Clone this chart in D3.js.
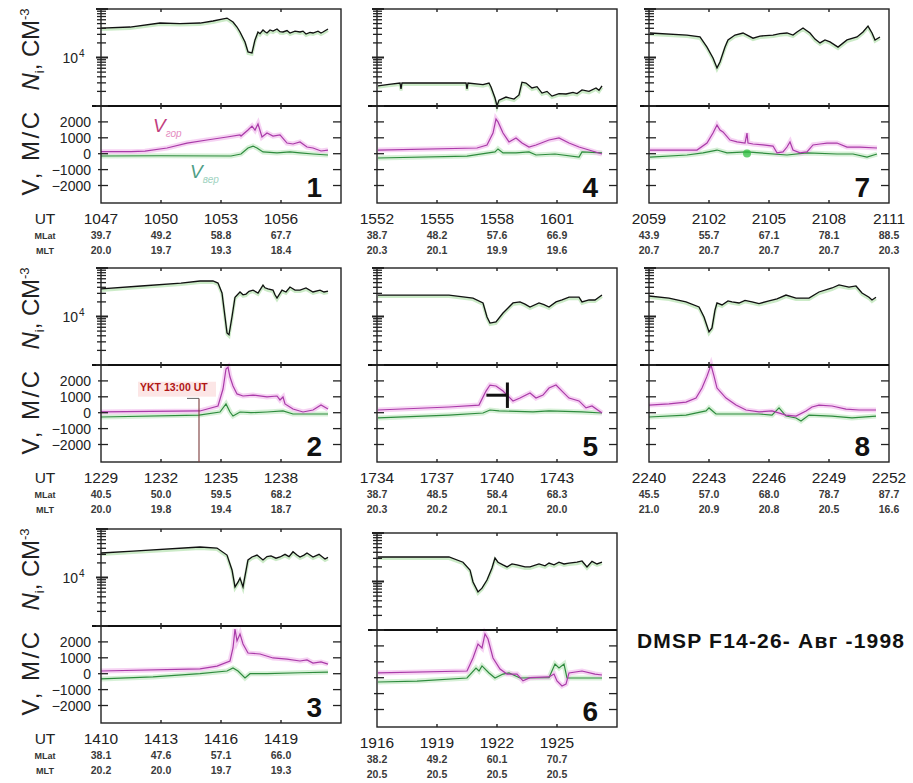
<!DOCTYPE html>
<html><head><meta charset="utf-8">
<script src="https://cdn.jsdelivr.net/npm/d3@7"></script>
<style>
body{margin:0;background:#fff}
svg{display:block}
text{font-family:"Liberation Sans",Arial,Helvetica,sans-serif}
</style>
</head><body>
<svg id="c" width="913" height="783"></svg>
<script>
// ---------------- DATA (time in minutes after first UT label) ----------------
// Ion density Ni (cm^-3)
const ni1 = [[0,4.05e4],[1.45,4.25e4],[2.95,5.14e4],[3.95,5.0e4],[4.95,5.14e4],[5.6,5.66e4],[6.05,6.2e4],[6.3,6.5e4],[6.6,5.4e4],[6.8,4.25e4],[6.95,3.36e4],[7.2,2.09e4],[7.35,1.3e4],[7.55,1.24e4],[7.7,2.3e4],[7.85,3.36e4],[7.95,3.1e4],[8.1,3.69e4],[8.2,3.4e4],[8.3,3.2e4],[8.45,3.69e4],[8.6,3.5e4],[8.8,3.87e4],[8.95,3.4e4],[9.1,3.36e4],[9.3,3.6e4],[9.45,3.2e4],[9.7,3.5e4],[9.95,3.36e4],[10.1,3.5e4],[10.25,3.05e4],[10.45,3.3e4],[10.6,3.2e4],[10.85,3.5e4],[11.0,3.2e4],[11.1,3.36e4],[11.35,3.87e4]];
const ni2 = [[0,3.7e4],[2.0,4.25e4],[4.0,4.9e4],[4.95,5.4e4],[5.6,5.4e4],[5.85,4.9e4],[6.05,3.05e4],[6.2,9.8e3],[6.3,4.6e3],[6.4,4.2e3],[6.55,9.8e3],[6.7,2.5e4],[6.95,3.2e4],[7.1,2.8e4],[7.25,2.9e4],[7.4,3.3e4],[7.6,3.5e4],[7.85,3.05e4],[8.1,4.45e4],[8.2,3.9e4],[8.35,3.7e4],[8.6,3.5e4],[8.7,2.8e4],[8.8,2.4e4],[9.05,3.5e4],[9.25,3.2e4],[9.45,4.05e4],[9.7,3.5e4],[9.95,3.5e4],[10.25,3.87e4],[10.6,3.2e4],[10.95,3.5e4],[11.15,3.2e4],[11.35,3.35e4]];
const ni3 = [[0,3.2e4],[1.6,3.5e4],[4.95,4.25e4],[5.8,4.05e4],[6.3,2.9e4],[6.55,1.43e4],[6.7,6.4e3],[6.85,8.0e3],[6.95,9.7e3],[7.1,6.4e3],[7.35,2.3e4],[7.55,2.65e4],[7.8,2.9e4],[8.1,2.3e4],[8.3,2.7e4],[8.5,2.8e4],[8.75,2.5e4],[8.95,2.65e4],[9.2,3.0e4],[9.4,2.7e4],[9.6,3.4e4],[9.8,2.9e4],[9.95,2.65e4],[10.15,2.9e4],[10.3,3.2e4],[10.6,2.65e4],[10.9,3.0e4],[11.2,2.4e4],[11.35,2.6e4]];
const ni4 = [[0.05,2.6e3],[0.6,2.8e3],[1.15,2.98e3],[1.2,2.24e3],[1.25,2.98e3],[2.0,2.98e3],[3.0,2.98e3],[4.45,2.98e3],[4.5,2.24e3],[4.55,2.98e3],[5.3,2.75e3],[5.6,2.98e3],[5.7,2.46e3],[5.9,1.46e3],[6.0,1.0e3],[6.1,1.32e3],[6.45,1.53e3],[6.85,1.39e3],[7.1,1.69e3],[7.25,3.1e3],[7.45,2.98e3],[7.75,2.35e3],[8.0,2.5e3],[8.25,1.85e3],[8.5,2.0e3],[8.75,1.6e3],[9.1,1.8e3],[9.45,1.77e3],[9.8,1.9e3],[10.0,1.8e3],[10.25,2.14e3],[10.6,2.0e3],[10.95,2.35e3],[11.1,2.1e3],[11.25,2.6e3]];
const ni5 = [[0.05,2.77e4],[3.6,2.77e4],[4.8,2.4e4],[5.3,1.9e4],[5.5,9.8e3],[5.65,7.3e3],[5.95,7.7e3],[6.3,1.18e4],[6.8,1.9e4],[7.15,2.0e4],[7.4,1.8e4],[7.65,1.57e4],[8.1,1.9e4],[8.35,1.75e4],[8.6,1.57e4],[8.95,2.0e4],[9.25,2.2e4],[9.6,2.5e4],[10.1,2.5e4],[10.25,2.0e4],[10.6,2.2e4],[10.9,2.19e4],[11.25,2.77e4]];
const ni6 = [[0.05,3.2e4],[3.6,3.2e4],[4.3,2.5e4],[4.65,1.73e4],[4.8,9.8e3],[5.05,6.1e3],[5.25,7.3e3],[5.5,1.07e4],[5.75,1.9e4],[5.9,3.05e4],[6.05,2.5e4],[6.3,2.2e4],[6.5,2.0e4],[6.75,2.3e4],[7.0,2.19e4],[7.4,2.0e4],[7.65,2.0e4],[8.1,2.3e4],[8.4,2.1e4],[8.6,2.4e4],[8.85,2.2e4],[9.1,2.5e4],[9.35,2.3e4],[9.6,2.4e4],[10.0,2.5e4],[10.25,2.65e4],[10.5,2.0e4],[10.75,2.6e4],[11.0,2.3e4],[11.25,2.5e4]];
const ni7 = [[0.05,3.2e4],[1.9,2.9e4],[2.55,2.65e4],[2.9,1.64e4],[3.2,9.8e3],[3.4,6.1e3],[3.55,8.1e3],[3.8,1.64e4],[3.95,2.3e4],[4.3,2.9e4],[4.7,3.2e4],[5.2,2.5e4],[5.55,2.77e4],[6.2,2.9e4],[6.55,3.1e4],[6.9,3.2e4],[7.2,2.9e4],[7.4,3.36e4],[7.7,4.05e4],[8.05,3.2e4],[8.3,2.4e4],[8.55,2.0e4],[8.8,2.3e4],[9.05,2.1e4],[9.45,1.64e4],[9.9,2.3e4],[10.4,2.65e4],[10.7,3.36e4],[10.95,4.45e4],[11.15,3.2e4],[11.3,2.3e4],[11.55,2.65e4]];
const ni8 = [[0,2.65e4],[1.0,2.4e4],[1.85,2.0e4],[2.5,1.57e4],[2.75,9.8e3],[3.0,4.8e3],[3.15,5.8e3],[3.3,1.36e4],[3.4,1.9e4],[3.65,1.73e4],[3.95,2.1e4],[4.15,2.0e4],[4.5,1.9e4],[4.8,2.15e4],[5.15,2.0e4],[5.5,1.85e4],[6.0,2.09e4],[6.4,2.3e4],[6.85,2.77e4],[7.35,2.4e4],[8.0,2.4e4],[8.5,3.2e4],[9.15,3.87e4],[9.5,4.47e4],[10.0,4.05e4],[10.35,4.26e4],[10.65,3.05e4],[11.0,2.5e4],[11.15,2.19e4],[11.35,2.5e4]];

// Horizontal drift velocity V_гор (m/s)
const vh1 = [[0,130],[1.5,130],[2.2,160],[3.3,360],[4.3,670],[5.3,860],[6.3,1050],[6.95,1180],[7.0,1110],[7.35,1490],[7.55,1740],[7.7,1490],[7.85,1870],[8.05,1050],[8.3,1300],[8.6,1110],[8.95,1180],[9.3,670],[9.6,610],[9.95,740],[10.3,420],[10.6,360],[11.0,170],[11.35,230]];
const vh2 = [[0,50],[4.95,110],[5.85,420],[6.1,1490],[6.25,2750],[6.35,2870],[6.45,2245],[6.6,1680],[6.8,1180],[7.1,1050],[7.6,1110],[8.3,990],[8.8,1050],[8.95,800],[9.1,990],[9.2,550],[9.6,230],[10.1,45],[10.6,170],[11.0,480],[11.35,230]];
const vh3 = [[0,170],[4.95,300],[5.8,480],[6.45,800],[6.6,1620],[6.7,2810],[6.8,2060],[6.95,2500],[7.1,1870],[7.35,1300],[7.95,1240],[8.6,990],[9.3,920],[9.95,800],[10.3,870],[10.6,670],[11.0,740],[11.35,600]];
const vh4 = [[0.05,230],[5.0,360],[5.5,550],[5.8,1300],[5.95,2180],[6.05,2000],[6.3,1300],[6.6,740],[6.95,990],[7.25,670],[7.6,420],[7.95,550],[8.6,860],[9.1,990],[9.6,670],[10.1,420],[10.6,230],[11.25,-20]];
const vh5 = [[0.05,170],[3.6,360],[5.1,480],[5.45,1360],[5.65,1740],[5.95,1680],[6.3,1360],[6.8,740],[7.15,920],[7.65,1240],[7.95,920],[8.3,1110],[8.6,1550],[8.95,1740],[9.25,1360],[9.6,920],[10.1,740],[10.45,300],[10.75,420],[11.25,-20]];
const vh6 = [[0.05,300],[4.5,420],[4.8,1240],[5.05,2120],[5.25,1870],[5.4,2750],[5.55,2430],[5.8,1240],[6.15,550],[6.5,230],[7.0,230],[7.3,-200],[7.65,0],[8.6,50],[8.85,230],[9.0,-200],[9.25,-520],[9.45,-400],[9.6,300],[10.25,420],[10.9,230],[11.25,170]];
const vh7 = [[0.05,230],[2.4,230],[2.9,670],[3.2,1300],[3.4,1800],[3.55,1490],[3.7,1370],[4.05,860],[4.4,740],[4.8,670],[4.9,1300],[4.95,670],[5.2,610],[5.7,550],[6.2,480],[6.4,50],[6.7,110],[6.9,420],[7.05,740],[7.2,230],[7.55,50],[7.9,110],[8.2,550],[8.55,610],[8.9,670],[9.4,670],[9.9,420],[10.55,420],[11.4,360]];
const vh8 = [[0,480],[1.0,550],[1.85,670],[2.35,920],[2.65,1550],[2.9,2300],[3.1,3000],[3.25,2300],[3.4,1550],[3.85,920],[4.35,480],[4.85,170],[5.5,50],[6.15,110],[6.85,-150],[7.35,-210],[7.85,110],[8.15,360],[8.5,480],[9.15,420],[9.85,230],[10.5,170],[11.35,170]];

// Vertical drift velocity V_вер (m/s)
const vv1 = [[0,-145],[3,-130],[6.5,-145],[7.0,-20],[7.35,360],[7.6,480],[7.8,360],[8.1,110],[8.8,50],[9.45,110],[9.95,50],[10.6,-20],[11.35,-80]];
const vv2 = [[0,-270],[4.9,-150],[5.95,45],[6.25,550],[6.45,45],[6.6,-210],[6.95,45],[7.5,0],[8.3,45],[9.1,110],[9.6,-80],[10.6,-80],[11.35,-80]];
const vv3 = [[0,-330],[2.6,-200],[4.95,0],[6.3,170],[6.6,360],[6.85,170],[7.2,-270],[7.45,0],[8.3,0],[9.95,60],[11.35,100]];
const vv4 = [[0.05,-270],[4.5,-150],[5.9,110],[6.05,300],[6.3,50],[6.95,50],[7.6,110],[7.95,-80],[8.9,-20],[10.1,-210],[10.25,110],[11.25,50]];
const vv5 = [[0.05,-330],[3.6,-150],[5.3,-20],[5.65,170],[6.1,110],[7.8,50],[8.6,110],[10.25,50],[11.25,-20]];
const vv6 = [[0.05,-270],[2.0,-210],[4.5,-20],[4.95,610],[5.1,420],[5.25,740],[5.6,300],[5.9,-20],[6.3,230],[6.6,300],[7.15,-20],[8.6,0],[8.9,860],[9.1,610],[9.35,860],[9.5,-20],[10.25,-20],[11.25,-20]];
const vv7 = [[0.05,-210],[1.9,-80],[2.7,50],[3.4,230],[3.9,50],[4.9,110],[5.55,50],[6.9,-80],[7.9,50],[9.4,-20],[10.2,-20],[10.9,-210],[11.4,-20]];
const vv8 = [[0,-270],[1.85,-150],[2.85,110],[3.0,300],[3.35,-80],[4.35,-80],[5.5,-80],[6.15,-150],[6.5,300],[6.85,-210],[7.35,-330],[7.6,-520],[8.0,-150],[9.15,-210],[10.15,-330],[11.35,-210]];

// Tick labels under each panel (panels 1..8)
const utLabels = [
  ["1047","1050","1053","1056"],["1229","1232","1235","1238"],["1410","1413","1416","1419"],
  ["1552","1555","1558","1601"],["1734","1737","1740","1743"],["1916","1919","1922","1925"],
  ["2059","2102","2105","2108","2111"],["2240","2243","2246","2249","2252"]];
const mlatLabels = [
  ["39.7","49.2","58.8","67.7"],["40.5","50.0","59.5","68.2"],["38.1","47.6","57.1","66.0"],
  ["38.7","48.2","57.6","66.9"],["38.7","48.5","58.4","68.3"],["38.2","49.2","60.1","70.7"],
  ["43.9","55.7","67.1","78.1","88.5"],["45.5","57.0","68.0","78.7","87.7"]];
const mltLabels = [
  ["20.0","19.7","19.3","18.4"],["20.0","19.8","19.4","18.7"],["20.2","20.0","19.7","19.3"],
  ["20.3","20.1","19.9","19.6"],["20.3","20.2","20.1","20.0"],["20.5","20.5","20.5","20.5"],
  ["20.7","20.7","20.7","20.7","20.3"],["21.0","20.9","20.8","20.5","16.6"]];
const vTicks = [-2000,-1000,0,1000,2000];
const tickMinutes = [0,3,6,9,12];
// annotations
const yktTime = 4.9;                 // panel 2 marker (YKT 13:00 UT)
const p5Marker = {t0:5.47, t1:6.52, v:1100, vLo:300, vHi:1900};
const p7Blob = {t:4.9, v:20};

// ---------------- DRAWING ----------------
const svg = d3.select("#c");
const W = 240, H = 97;
const colX = [101, 377, 649];
const layout = [[0,9],[0,268],[0,529],[1,9],[1,268],[1,533],[2,9],[2,268]];
const series = [[ni1,vh1,vv1],[ni2,vh2,vv2],[ni3,vh3,vv3],[ni4,vh4,vv4],[ni5,vh5,vv5],[ni6,vh6,vv6],[ni7,vh7,vv7],[ni8,vh8,vv8]];

series.forEach((s, i) => {
  const [ci, top] = layout[i];
  const left = colX[ci], mid = top + H, bot = mid + H;
  const x = d3.scaleLinear().domain([0,12]).range([left, left + W]);
  const yN = d3.scaleLog().domain([1e3,1e5]).range([mid, top]).clamp(true);
  const yV = d3.scaleLinear().domain([-3100,3000]).range([bot, mid]).clamp(true);
  const g = svg.append("g");

  const cid = "clip" + i;
  svg.append("clipPath").attr("id", cid).append("rect")
    .attr("x", left).attr("y", top).attr("width", W).attr("height", 2*H);

  const lineN = d3.line().x(d => x(d[0])).y(d => yN(d[1]));
  const lineV = d3.line().x(d => x(d[0])).y(d => yV(d[1]));
  const lg = g.append("g").attr("clip-path", `url(#${cid})`);

  lg.append("path").attr("d", lineV(s[2])).attr("fill","none").attr("stroke","#cdeccd").attr("stroke-width",5).attr("opacity",0.8);
  lg.append("path").attr("d", lineV(s[1])).attr("fill","none").attr("stroke","#f4c8f0").attr("stroke-width",5).attr("opacity",0.8);
  lg.append("path").attr("d", lineV(s[2])).attr("fill","none").attr("stroke","#2e8b3e").attr("stroke-width",1.2);
  lg.append("path").attr("d", lineV(s[1])).attr("fill","none").attr("stroke","#a93aa8").attr("stroke-width",1.2);
  lg.append("path").attr("d", lineN(s[0])).attr("fill","none").attr("stroke","#b6e2b0").attr("stroke-width",3).attr("opacity",0.7).attr("transform","translate(0,1.5)");
  lg.append("path").attr("d", lineN(s[0])).attr("fill","none").attr("stroke","#111").attr("stroke-width",1.3);

  // frame
  g.append("rect").attr("x", left).attr("y", top).attr("width", W).attr("height", 2*H)
    .attr("fill","none").attr("stroke","#222").attr("stroke-width",1.4);
  g.append("line").attr("x1", left - 9).attr("x2", left + W).attr("y1", mid).attr("y2", mid)
    .attr("stroke","#111").attr("stroke-width",2);

  // log ticks (upper, left)
  yN.ticks().forEach(v => {
    const major = Math.abs(Math.log10(v) - Math.round(Math.log10(v))) < 1e-9;
    g.append("line").attr("x1", left - (major ? 5 : 4)).attr("x2", left + (major ? 7 : 5))
      .attr("y1", yN(v)).attr("y2", yN(v)).attr("stroke","#222").attr("stroke-width", major ? 2 : 1.3);
  });
  // V ticks left and right
  vTicks.forEach(v => {
    g.append("line").attr("x1", left - 3).attr("x2", left + 7).attr("y1", yV(v)).attr("y2", yV(v)).attr("stroke","#222").attr("stroke-width",1.3);
    g.append("line").attr("x1", left + W - 8).attr("x2", left + W).attr("y1", yV(v)).attr("y2", yV(v)).attr("stroke","#222").attr("stroke-width",1.3);
  });
  // time ticks
  tickMinutes.slice(1,4).forEach(t => {
    [[top, top+3],[mid-3, mid+3],[bot-3, bot]].forEach(([a,b]) => {
      g.append("line").attr("x1", x(t)).attr("x2", x(t)).attr("y1", a).attr("y2", b).attr("stroke","#222").attr("stroke-width",1.4);
    });
  });

  // labels below
  utLabels[i].forEach((lab, k) => {
    const tx = x(tickMinutes[k]);
    g.append("text").attr("x", tx).attr("y", bot + 21).attr("text-anchor","middle")
      .attr("font-size",15.5).attr("fill","#222").text(lab);
    g.append("text").attr("x", tx).attr("y", bot + 36).attr("text-anchor","middle")
      .attr("font-size",10.5).attr("font-weight","bold").attr("fill","#3a3a3a").text(mlatLabels[i][k]);
    g.append("text").attr("x", tx).attr("y", bot + 51).attr("text-anchor","middle")
      .attr("font-size",10.5).attr("font-weight","bold").attr("fill","#3a3a3a").text(mltLabels[i][k]);
  });

  // panel number
  g.append("text").attr("x", left + W - 19).attr("y", bot - 6).attr("text-anchor","end")
    .attr("font-size",28).attr("font-weight","bold").attr("fill","#111").text(String(i+1));

  if (ci === 0) {
    g.append("text").attr("x", left - 23).attr("y", yN(1e4) + 5).attr("text-anchor","end")
      .attr("font-size",14).attr("fill","#222").text("10");
    g.append("text").attr("x", left - 22).attr("y", yN(1e4) - 1).attr("font-size",10).attr("fill","#222").text("4");
    vTicks.forEach(v => {
      g.append("text").attr("x", left - 10).attr("y", yV(v) + 5).attr("text-anchor","end")
        .attr("font-size",14).attr("fill","#222").text(v < 0 ? "\u2212" + Math.abs(v) : String(v));
    });
    const cyN = top + H/2 - 8;
    const tn = g.append("text").attr("transform", `translate(39,${cyN}) rotate(-90)`)
      .attr("text-anchor","middle").attr("font-size",24).attr("fill","#222");
    tn.append("tspan").attr("font-style","italic").text("N");
    tn.append("tspan").attr("font-size",13).attr("dy",5).text("i");
    tn.append("tspan").attr("dy",-5).text(", СМ");
    tn.append("tspan").attr("font-size",13).attr("dy",-10).text("-3");
    const cyV = mid + H/2 - 2;
    g.append("text").attr("transform", `translate(39,${cyV}) rotate(-90)`)
      .attr("text-anchor","middle").attr("font-size",24).attr("letter-spacing",2.5).attr("fill","#222").text("V, М/С");
    g.append("text").attr("x",45).attr("y", bot + 21).attr("text-anchor","middle").attr("font-size",15.5).attr("fill","#222").text("UT");
    g.append("text").attr("x",45).attr("y", bot + 36).attr("text-anchor","middle").attr("font-size",9).attr("font-weight","bold").attr("fill","#333").text("MLat");
    g.append("text").attr("x",45).attr("y", bot + 51).attr("text-anchor","middle").attr("font-size",9).attr("font-weight","bold").attr("fill","#333").text("MLT");
  }

  if (i === 0) {
    const a = g.append("text").attr("x", x(2.6)).attr("y", yV(1380)).attr("font-size",19).attr("font-style","italic").attr("fill","#c2407e");
    a.append("tspan").text("V");
    a.append("tspan").attr("font-size",10).attr("dy",5).attr("fill","#e48cc0").text("гор");
    const b = g.append("text").attr("x", x(4.45)).attr("y", yV(-1550)).attr("font-size",19).attr("font-style","italic").attr("fill","#4f9e86");
    b.append("tspan").text("V");
    b.append("tspan").attr("font-size",10).attr("dy",5).attr("fill","#9fd3bf").text("вер");
  }
  if (i === 1) {
    g.append("rect").attr("x", x(1.85)).attr("y", yV(1950)).attr("width", 78).attr("height", 15).attr("fill","#fbe0e0").attr("opacity",0.8);
    g.append("line").attr("x1", x(yktTime) - 12).attr("x2", x(yktTime)).attr("y1", yV(900)).attr("y2", yV(900)).attr("stroke","#666").attr("stroke-width",1);
    g.append("line").attr("x1", x(yktTime)).attr("x2", x(yktTime)).attr("y1", yV(900)).attr("y2", bot).attr("stroke","#7a3a3a").attr("stroke-width",1.1);
    g.append("text").attr("x", x(1.95)).attr("y", yV(1380)).attr("font-size",10.5).attr("font-weight","bold").attr("fill","#b01515").text("YKT 13:00 UT");
  }
  if (i === 4) {
    g.append("line").attr("x1", x(p5Marker.t0)).attr("x2", x(p5Marker.t1)).attr("y1", yV(p5Marker.v)).attr("y2", yV(p5Marker.v)).attr("stroke","#111").attr("stroke-width",3);
    g.append("line").attr("x1", x(p5Marker.t1)).attr("x2", x(p5Marker.t1)).attr("y1", yV(p5Marker.vHi)).attr("y2", yV(p5Marker.vLo)).attr("stroke","#111").attr("stroke-width",3);
  }
  if (i === 6) {
    g.append("circle").attr("cx", x(p7Blob.t)).attr("cy", yV(p7Blob.v)).attr("r",4).attr("fill","#2fbf3f").attr("opacity",0.75);
  }
});

svg.append("text").attr("x",637).attr("y",648).attr("font-size",21).attr("font-weight","bold")
  .attr("fill","#111").attr("textLength",267).attr("lengthAdjust","spacing").text("DMSP F14-26- Авг -1998");
</script>
</body></html>
